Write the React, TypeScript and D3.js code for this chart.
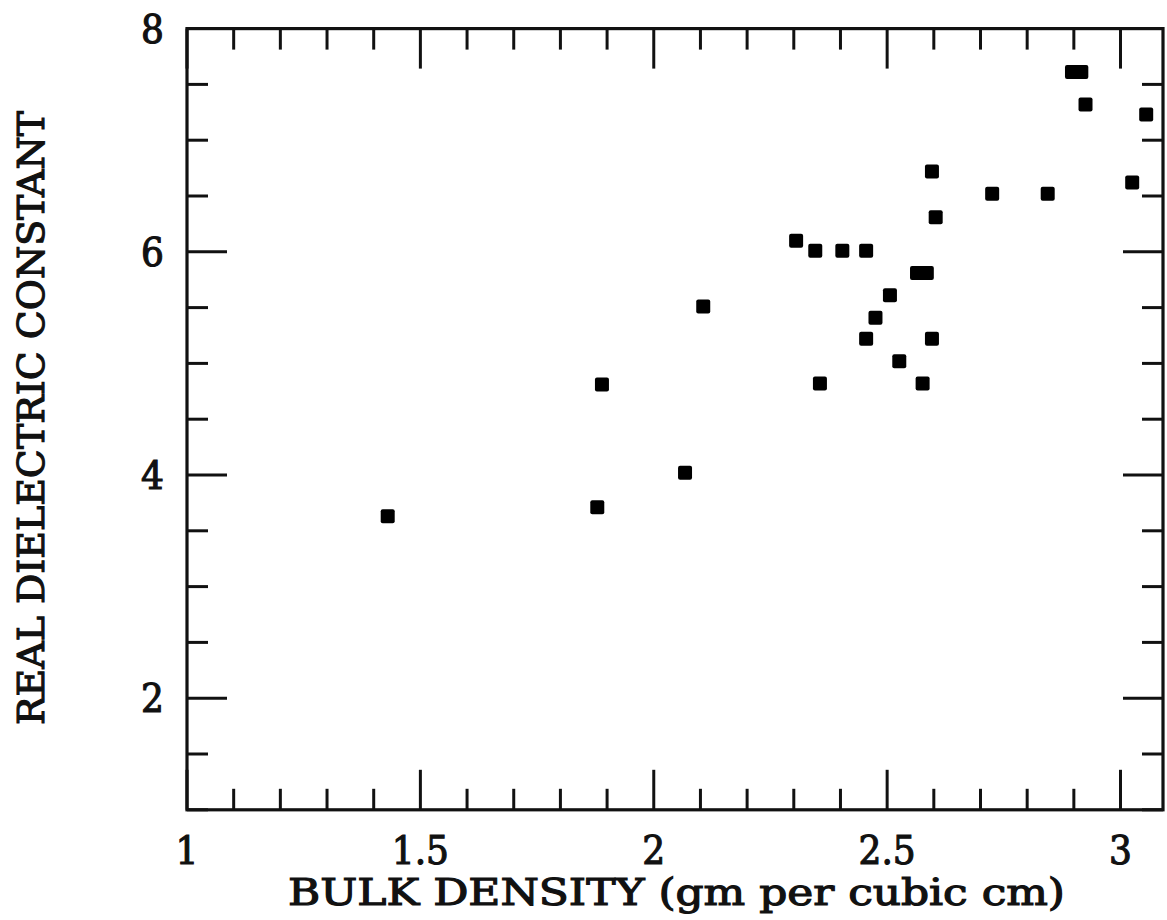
import React from "react";
import * as d3 from "d3";

const densityValues = [1.43, 1.879, 1.889, 2.067, 2.106, 2.305, 2.346, 2.404, 2.455, 2.356, 2.455, 2.475, 2.506, 2.526, 2.564, 2.585, 2.576, 2.596, 2.596, 2.604, 2.725, 2.844, 2.896, 2.916, 2.925, 3.025, 3.055];
const dielectricValues = [3.63, 3.71, 4.81, 4.02, 5.51, 6.10, 6.01, 6.01, 6.01, 4.82, 5.22, 5.41, 5.61, 5.02, 5.81, 5.81, 4.82, 5.22, 6.72, 6.31, 6.52, 6.52, 7.61, 7.61, 7.32, 6.62, 7.23];
const xTickLabels = [1, 1.5, 2, 2.5, 3];
const yTickLabels = [2, 4, 6, 8];
const xLabel = "BULK DENSITY (gm per cubic cm)";
const yLabel = "REAL DIELECTRIC CONSTANT";

export default function App() {
  const W = 1167, H = 920;
  const left = 187, right = 1163, top = 28.6, bottom = 809.8;
  const x = d3.scaleLinear().domain([1, 3.091]).range([left, right]);
  const y = d3.scaleLinear().domain([1, 8]).range([bottom, top]);
  const font = "'DejaVu Serif Condensed', 'DejaVu Serif', serif";

  const xMinor = d3.range(10, 31).map((v) => v / 10);
  const yMinor = d3.range(2, 17).map((v) => v / 2);
  const isXMajor = (v: number) => Math.abs(v * 2 - Math.round(v * 2)) < 1e-6;
  const isYMajor = (v: number) => Math.abs(v / 2 - Math.round(v / 2)) < 1e-6;
  const major = 40, minor = 21;
  const sq = 14;

  return (
    <svg width={W} height={H} style={{ position: "absolute", left: 0, top: 0, background: "#fff" }}>
      <rect x={0} y={0} width={W} height={H} fill="#fff" />
      <g stroke="#111" strokeWidth={3}>
        {xMinor.map((v, i) => {
          const L = isXMajor(v) ? major : minor;
          const px = x(v);
          return (
            <g key={"xt" + i}>
              <line x1={px} x2={px} y1={bottom} y2={bottom - L} />
              <line x1={px} x2={px} y1={top} y2={top + L} />
            </g>
          );
        })}
        {yMinor.map((v, i) => {
          const L = isYMajor(v) ? major : minor;
          const py = y(v);
          return (
            <g key={"yt" + i}>
              <line x1={left} x2={left + L} y1={py} y2={py} />
              <line x1={right} x2={right - L} y1={py} y2={py} />
            </g>
          );
        })}
        <rect x={left} y={top} width={right - left} height={bottom - top} fill="none" strokeWidth={3.2} />
      </g>
      <g fill="#000">
        {densityValues.map((d, i) => (
          <rect key={"p" + i} x={x(d) - sq / 2} y={y(dielectricValues[i]) - sq / 2} width={sq} height={sq} rx={2} />
        ))}
      </g>
      <g fontFamily={font} fontSize={40} fill="#111" stroke="#111" strokeWidth={1.1}>
        {xTickLabels.map((v) => (
          <text key={"xl" + v} x={x(v)} y={864} textAnchor="middle">{String(v)}</text>
        ))}
        {yTickLabels.map((v) => (
          <text key={"yl" + v} x={164} y={y(v) + 14} textAnchor="end">{String(v)}</text>
        ))}
      </g>
      <text x={288} y={905} fontFamily={font} fontSize={38} fill="#111" stroke="#111" strokeWidth={1.1} textLength={777} lengthAdjust="spacingAndGlyphs">{xLabel}</text>
      <text transform={`translate(44, 418) rotate(-90)`} textAnchor="middle" fontFamily={font} fontSize={38} fill="#111" stroke="#111" strokeWidth={1.1} textLength={614} lengthAdjust="spacingAndGlyphs">{yLabel}</text>
    </svg>
  );
}
